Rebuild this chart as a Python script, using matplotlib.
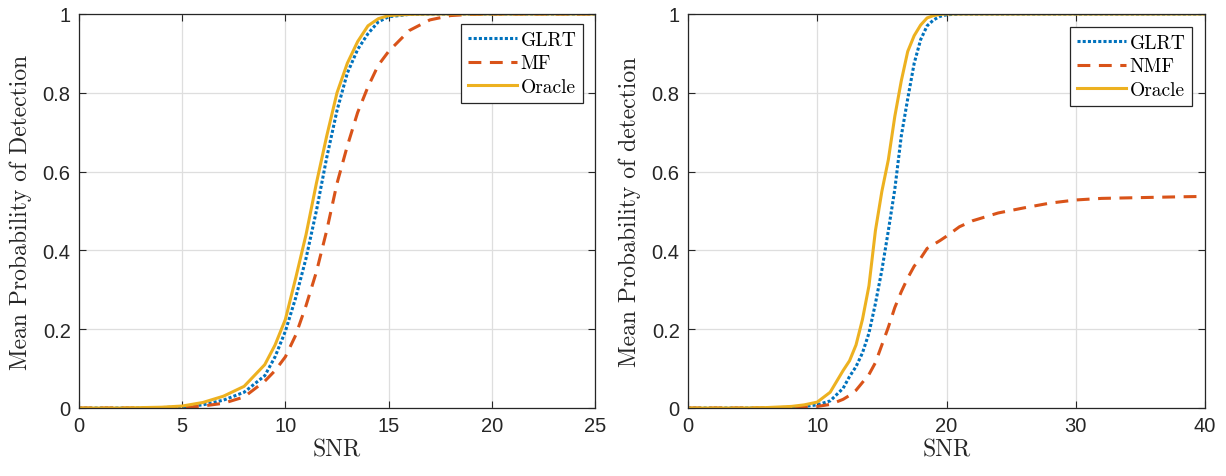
import numpy as np
import matplotlib
matplotlib.use('Agg')
import matplotlib.pyplot as plt
from matplotlib.ticker import FormatStrFormatter

# left panel data (SNR vs mean Pd)
snr_left = [0, 1, 2, 3, 4, 5, 6, 7, 8, 9, 9.5, 10, 10.5, 11, 11.5, 12, 12.5,
            13, 13.5, 14, 14.5, 15, 16, 17, 18, 19, 20, 25]
glrt_left = [0, 0, 0, 0, 0.001, 0.003, 0.008, 0.02, 0.04, 0.082, 0.13, 0.195,
             0.28, 0.38, 0.5, 0.635, 0.755, 0.85, 0.91, 0.95, 0.98, 0.993,
             0.999, 1, 1, 1, 1, 1]
mf_left = [0, 0, 0, 0, 0, 0.001, 0.005, 0.012, 0.028, 0.068, 0.095, 0.13,
           0.185, 0.26, 0.345, 0.45, 0.57, 0.665, 0.75, 0.815, 0.87, 0.905,
           0.958, 0.985, 0.996, 0.999, 1, 1]
oracle_left = [0, 0, 0, 0.001, 0.002, 0.005, 0.014, 0.03, 0.055, 0.11, 0.16,
               0.225, 0.33, 0.44, 0.57, 0.69, 0.8, 0.875, 0.93, 0.97, 0.988,
               0.996, 0.999, 1, 1, 1, 1, 1]

# right panel data
snr_right = [0, 2, 4, 6, 8, 9, 10, 11, 12, 12.5, 13, 13.5, 14, 14.5, 15, 15.5,
             16, 16.5, 17, 17.5, 18, 18.5, 19, 19.5, 20, 21, 22, 24, 26, 28,
             30, 32, 35, 38, 40]
glrt_right = [0, 0, 0, 0, 0.002, 0.004, 0.008, 0.018, 0.05, 0.08, 0.105, 0.14,
              0.19, 0.265, 0.35, 0.45, 0.555, 0.69, 0.785, 0.875, 0.935, 0.97,
              0.985, 0.994, 0.998, 1, 1, 1, 1, 1, 1, 1, 1, 1, 1]
nmf_right = [0, 0, 0, 0, 0.001, 0.002, 0.004, 0.009, 0.022, 0.032, 0.045,
             0.065, 0.085, 0.115, 0.16, 0.205, 0.255, 0.295, 0.33, 0.36, 0.38,
             0.405, 0.415, 0.425, 0.436, 0.46, 0.475, 0.495, 0.508, 0.52,
             0.528, 0.532, 0.534, 0.536, 0.537]
oracle_right = [0, 0, 0, 0.001, 0.004, 0.008, 0.015, 0.04, 0.095, 0.12, 0.16,
                0.225, 0.31, 0.45, 0.55, 0.63, 0.74, 0.83, 0.905, 0.945, 0.972,
                0.99, 0.996, 0.999, 1, 1, 1, 1, 1, 1, 1, 1, 1, 1, 1]

blue = (0, 0.447, 0.741)
red = (0.85, 0.325, 0.098)
yellow = (0.929, 0.694, 0.125)
dark = '#262626'

plt.rcParams['axes.unicode_minus'] = False

fig = plt.figure(figsize=(12.26, 4.77), dpi=100)
ax1 = fig.add_axes([79/1226, 68/477, 516/1226, 394/477])
ax2 = fig.add_axes([688/1226, 68/477, 517/1226, 394/477])


def style_axes(ax, xmax, xticks, ylabel, leg_anchor, labels, x, ys):
    ax.plot(x, ys[0], color=blue, lw=2.2, linestyle=(0, (1, 0.7)), label=labels[0])
    ax.plot(x, ys[1], color=red, lw=2.2, linestyle=(0, (4.2, 2.8)), label=labels[1])
    ax.plot(x, ys[2], color=yellow, lw=2.2, linestyle='-', label=labels[2])
    ax.set_xlim(0, xmax)
    ax.set_ylim(0, 1)
    ax.set_xticks(xticks)
    ax.set_yticks([0, 0.2, 0.4, 0.6, 0.8, 1])
    ax.xaxis.set_major_formatter(FormatStrFormatter('%g'))
    ax.yaxis.set_major_formatter(FormatStrFormatter('%g'))
    ax.grid(True, color='#dedede', lw=0.9)
    ax.set_axisbelow(True)
    ax.tick_params(direction='in', length=5, width=0.8, top=True, right=True,
                   colors=dark, labelsize=14.5, pad=6)
    for lab in ax.get_xticklabels() + ax.get_yticklabels():
        lab.set_family('Liberation Sans')
    for sp in ax.spines.values():
        sp.set_color(dark)
        sp.set_linewidth(0.9)
    ax.set_xlabel('SNR', family='cmr10', fontsize=17, color=dark, labelpad=2)
    ax.set_ylabel(ylabel, family='cmr10', fontsize=17, color=dark, labelpad=8)
    leg = ax.legend(loc='upper right', bbox_to_anchor=leg_anchor,
                    borderaxespad=0, fancybox=False, framealpha=1,
                    edgecolor=dark, prop={'family': 'cmr10', 'size': 14},
                    handlelength=2.5, handletextpad=0.2, labelspacing=0.3,
                    borderpad=0.35)
    leg.get_frame().set_linewidth(0.9)


style_axes(ax1, 25, [0, 5, 10, 15, 20, 25], 'Mean Probability of Detection',
           (0.977, 0.975), ['GLRT', 'MF', 'Oracle'], snr_left,
           [glrt_left, mf_left, oracle_left])
style_axes(ax2, 40, [0, 10, 20, 30, 40], 'Mean Probability of detection',
           (0.975, 0.967), ['GLRT', 'NMF', 'Oracle'], snr_right,
           [glrt_right, nmf_right, oracle_right])

fig.savefig('out.png', dpi=100)
